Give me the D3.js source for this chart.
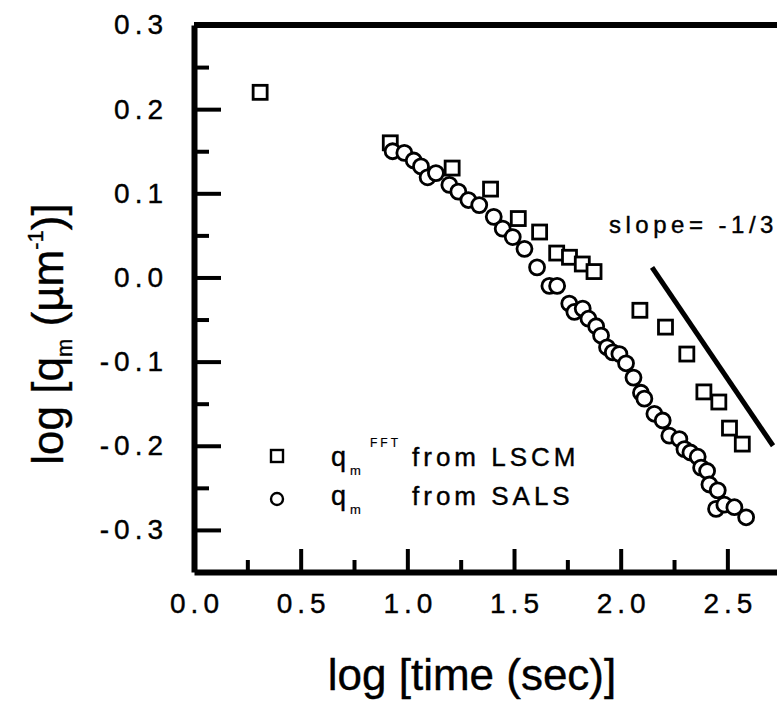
<!DOCTYPE html>
<html>
<head>
<meta charset="utf-8">
<script src="https://cdn.jsdelivr.net/npm/d3@7/dist/d3.min.js"></script>
<style>
  body { margin: 0; background: #fff; }
  text { font-family: Arial, "Liberation Sans", sans-serif; fill: #000; stroke: #000; stroke-width: 0.4px; }
</style>
</head>
<body>
<div id="chart"></div>
<script>
// q_m^FFT from LSCM (squares)
const lscmX = [0.31, 0.92, 1.21, 1.39, 1.52, 1.62, 1.70, 1.76, 1.82, 1.875, 2.09, 2.21, 2.31, 2.39, 2.46, 2.51, 2.57];
const lscmY = [0.220, 0.160, 0.130, 0.105, 0.070, 0.054, 0.029, 0.024, 0.016, 0.007, -0.039, -0.059, -0.091, -0.136, -0.148, -0.179, -0.198];

// q_m from SALS (circles)
const salsX = [0.931, 0.986, 1.030, 1.064, 1.095, 1.134, 1.197, 1.239, 1.286, 1.337, 1.405, 1.447, 1.494, 1.549,
  1.608, 1.666, 1.702, 1.759, 1.783, 1.822, 1.849, 1.885, 1.908, 1.936, 1.963, 1.994, 2.025, 2.060, 2.095, 2.111,
  2.158, 2.197, 2.228, 2.275, 2.299, 2.327, 2.361, 2.377, 2.405, 2.416, 2.455, 2.447, 2.486, 2.533, 2.588];
const salsY = [0.150, 0.148, 0.139, 0.132, 0.119, 0.124, 0.110, 0.102, 0.092, 0.086, 0.072, 0.058, 0.048, 0.034,
  0.012, -0.010, -0.010, -0.031, -0.041, -0.037, -0.049, -0.058, -0.069, -0.083, -0.089, -0.091, -0.102, -0.119, -0.137, -0.144,
  -0.162, -0.170, -0.188, -0.192, -0.204, -0.208, -0.213, -0.226, -0.230, -0.246, -0.253, -0.275, -0.270, -0.273, -0.285];

// slope = -1/3 guide line
const slopeX = [2.147, 2.714];
const slopeY = [0.012, -0.200];

const xMajor = [0, 0.5, 1.0, 1.5, 2.0, 2.5];
const xMinor = [0.25, 0.75, 1.25, 1.75, 2.25];
const yMajor = [0.3, 0.2, 0.1, 0.0, -0.1, -0.2, -0.3];
const yMinor = [0.25, 0.15, 0.05, -0.05, -0.15, -0.25];

const width = 777, height = 704;

const svg = d3.select('#chart').append('svg')
  .attr('width', width)
  .attr('height', height);

svg.append('rect').attr('width', width).attr('height', height).attr('fill', '#fff');

const x = d3.scaleLinear().domain([0, 2.75]).range([194, 780.7]);
const y = d3.scaleLinear().domain([-0.35, 0.3]).range([572, 25]);

const fmt = d => d3.format('.1f')(d).replace('\u2212', '-');

// x axis (ticks pointing inward)
svg.append('g')
  .attr('transform', `translate(0,${y(-0.35)})`)
  .call(d3.axisBottom(x).tickValues(xMajor).tickSize(-23).tickSizeOuter(0)
    .tickPadding(21).tickFormat(fmt))
  .call(g => g.selectAll('.tick text').attr('dx', 2.5));

svg.append('g')
  .attr('transform', `translate(0,${y(-0.35)})`)
  .call(d3.axisBottom(x).tickValues(xMinor).tickSize(-12).tickSizeOuter(0).tickFormat(''))
  .call(g => g.select('.domain').remove());

// y axis
svg.append('g')
  .attr('transform', `translate(${x(0)},0)`)
  .call(d3.axisLeft(y).tickValues(yMajor).tickSize(-27).tickSizeOuter(0)
    .tickPadding(26).tickFormat(fmt));

svg.append('g')
  .attr('transform', `translate(${x(0)},0)`)
  .call(d3.axisLeft(y).tickValues(yMinor).tickSize(-15).tickSizeOuter(0).tickFormat(''))
  .call(g => g.select('.domain').remove());

svg.selectAll('.domain').attr('stroke', '#000').attr('stroke-width', 6);
svg.selectAll('.tick line').attr('stroke', '#000').attr('stroke-width', 4);
svg.selectAll('.tick text')
  .attr('font-size', 28)
  .attr('letter-spacing', 5)
  .attr('font-family', 'Arial, "Liberation Sans", sans-serif')
  .attr('fill', '#000');

// top frame line
svg.append('line')
  .attr('x1', x(0)).attr('x2', width)
  .attr('y1', y(0.3)).attr('y2', y(0.3))
  .attr('stroke', '#000').attr('stroke-width', 6);

// slope guide
svg.append('line')
  .attr('x1', x(slopeX[0])).attr('y1', y(slopeY[0]))
  .attr('x2', x(slopeX[1])).attr('y2', y(slopeY[1]))
  .attr('stroke', '#000').attr('stroke-width', 5);

svg.append('text')
  .attr('x', 609).attr('y', 233)
  .attr('font-size', 24)
  .attr('letter-spacing', 4.5)
  .text('slope= -1/3');

// squares
const sq = 14;
svg.append('g').selectAll('rect')
  .data(lscmX.map((d, i) => [d, lscmY[i]]))
  .join('rect')
  .attr('x', d => x(d[0]) - sq / 2)
  .attr('y', d => y(d[1]) - sq / 2)
  .attr('width', sq).attr('height', sq)
  .attr('fill', '#fff').attr('stroke', '#000').attr('stroke-width', 2.8);

// circles
svg.append('g').selectAll('circle')
  .data(salsX.map((d, i) => [d, salsY[i]]))
  .join('circle')
  .attr('cx', d => x(d[0]))
  .attr('cy', d => y(d[1]))
  .attr('r', 7.5)
  .attr('fill', '#fff').attr('stroke', '#000').attr('stroke-width', 2.8);

// legend
const legend = svg.append('g');
legend.append('rect').attr('x', 271).attr('y', 450).attr('width', 12).attr('height', 12)
  .attr('fill', '#fff').attr('stroke', '#000').attr('stroke-width', 2.4);
legend.append('circle').attr('cx', 277).attr('cy', 499).attr('r', 6)
  .attr('fill', '#fff').attr('stroke', '#000').attr('stroke-width', 2.4);

const legendRows = [
  { yb: 466, sup: 'FFT', label: 'from LSCM' },
  { yb: 505, sup: '', label: 'from SALS' }
];
legendRows.forEach(r => {
  legend.append('text').attr('x', 331).attr('y', r.yb).attr('font-size', 27).text('q');
  legend.append('text').attr('x', 350).attr('y', r.yb + 9).attr('font-size', 13)
    .style('stroke-width', '0.2px').text('m');
  if (r.sup) legend.append('text').attr('x', 370).attr('y', r.yb - 19)
    .attr('font-size', 12).attr('letter-spacing', 3).style('stroke-width', '0.2px').text(r.sup);
  legend.append('text').attr('x', 412).attr('y', r.yb).attr('font-size', 26)
    .attr('letter-spacing', 4).text(r.label);
});

// axis titles
svg.append('text')
  .attr('x', 472).attr('y', 690)
  .attr('text-anchor', 'middle')
  .attr('font-size', 44)
  .text('log [time (sec)]');

const yt = svg.append('text')
  .attr('transform', 'translate(63,334) rotate(-90)')
  .attr('text-anchor', 'middle')
  .attr('font-size', 44);
yt.append('tspan').text('log [q');
yt.append('tspan').attr('font-size', 22).attr('dy', 9).text('m');
yt.append('tspan').attr('dy', -9).text(' (\u00b5m');
yt.append('tspan').attr('font-size', 22).attr('dy', -20).text('-1');
yt.append('tspan').attr('dy', 20).text(')]');
</script>
</body>
</html>
